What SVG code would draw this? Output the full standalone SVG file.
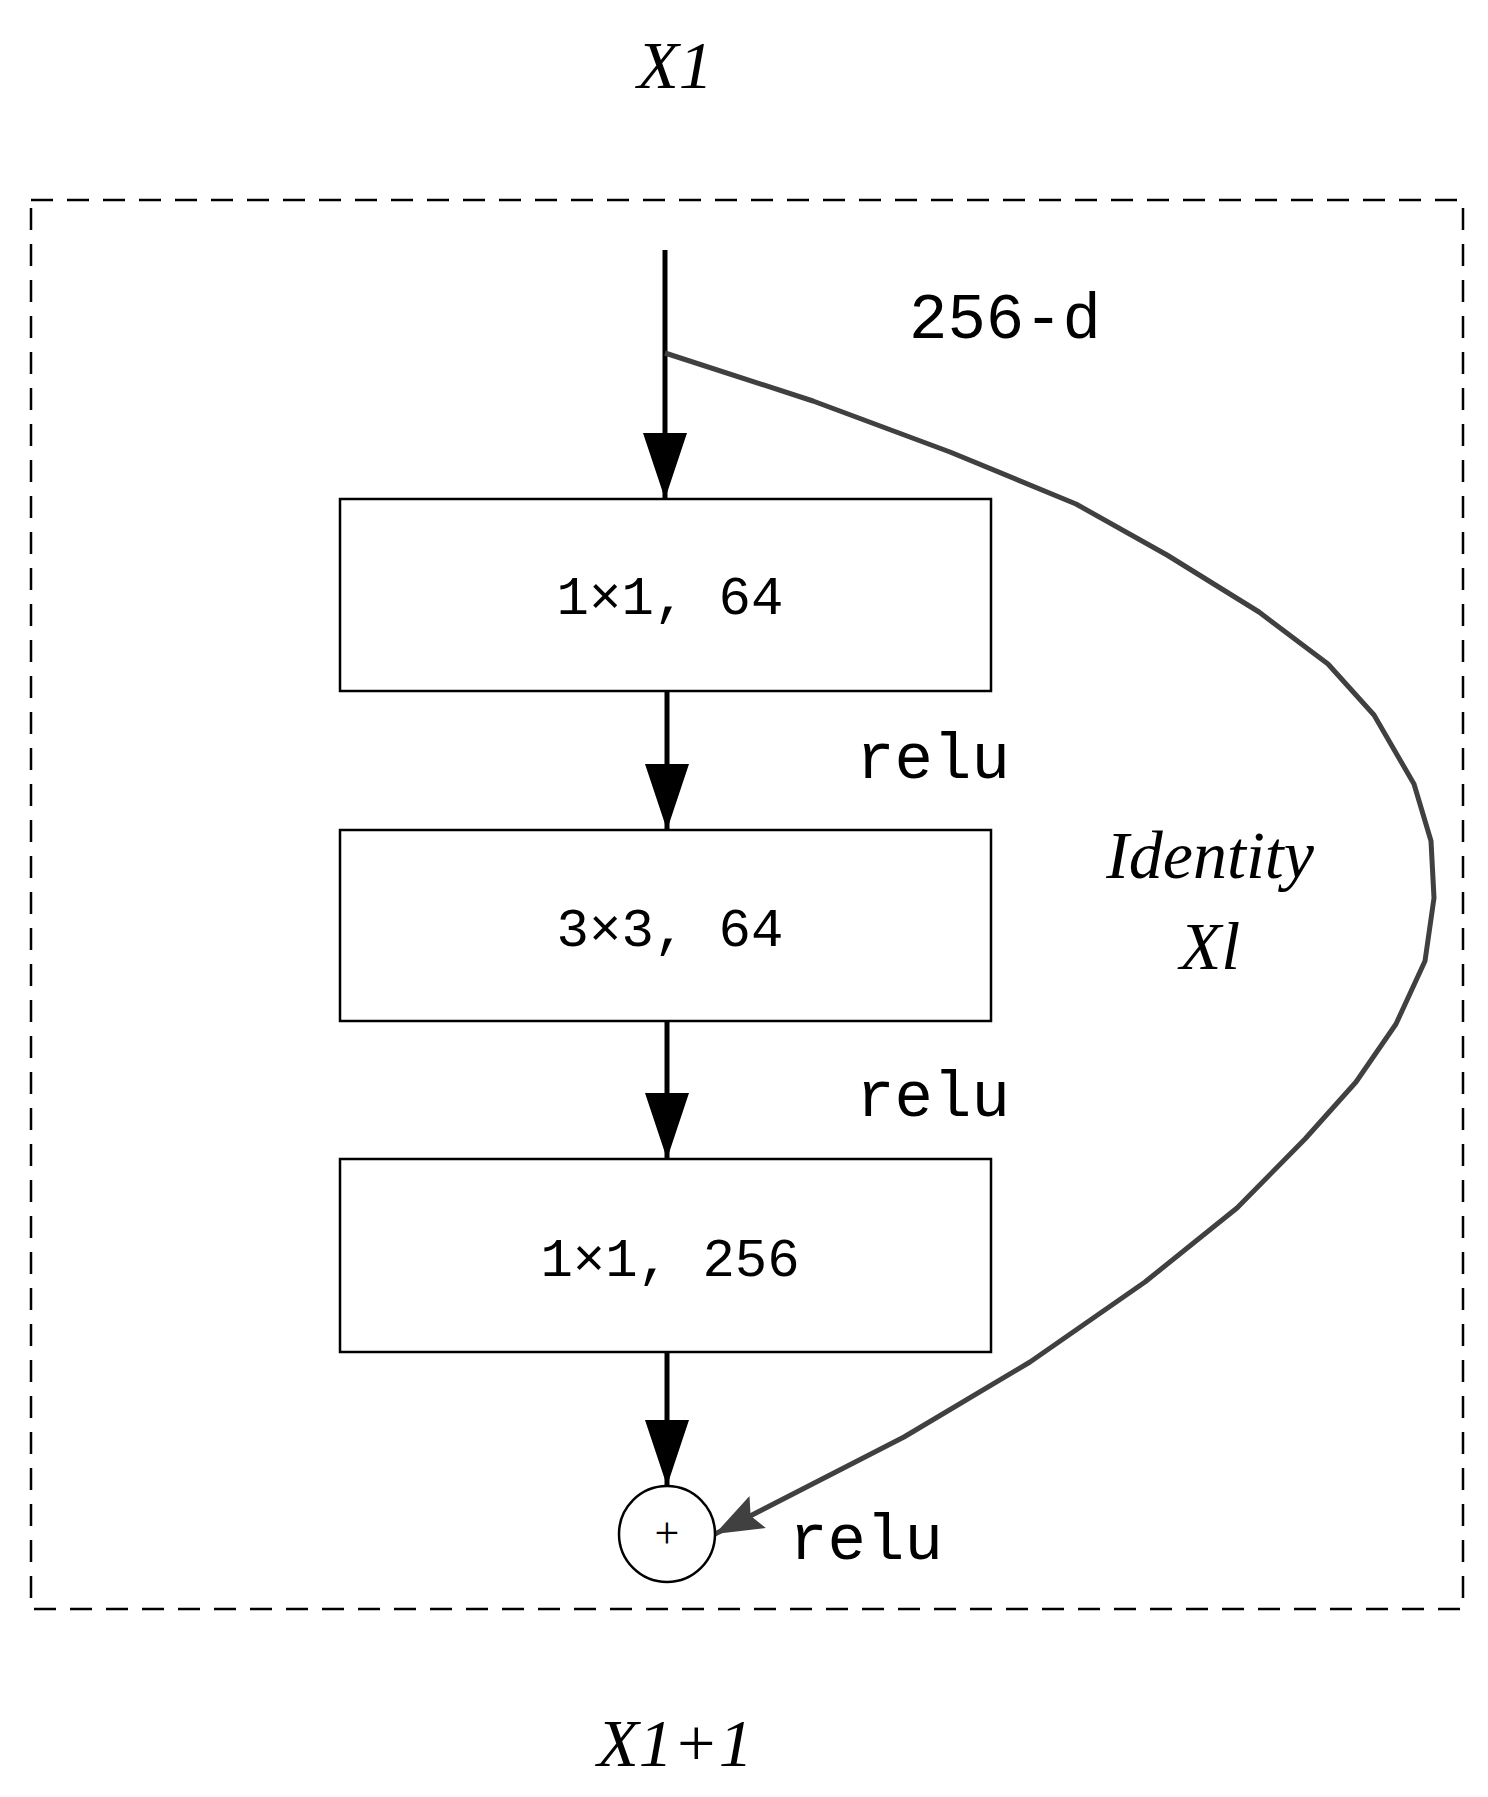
<svg xmlns="http://www.w3.org/2000/svg" width="1488" height="1797" viewBox="0 0 1488 1797">
<style>
.t{font-family:"Liberation Mono",monospace;font-size:54px;fill:#000;text-anchor:middle}
.i{font-family:"Liberation Serif",serif;font-style:italic;font-size:68px;fill:#000;text-anchor:middle}
.r{fill:#fff;stroke:#000;stroke-width:2.5}
.a{stroke:#000;stroke-width:5;fill:none}
</style>
<defs>
<marker id="ah" markerUnits="userSpaceOnUse" markerWidth="70" markerHeight="44" refX="66" refY="22" orient="auto"><path d="M0,0 L66,22 L0,44 Z" fill="#000"/></marker>
<marker id="ag" markerUnits="userSpaceOnUse" markerWidth="50" markerHeight="36" refX="48" refY="18" orient="auto"><path d="M0,0 L48,18 L0,36 L8,18 Z" fill="#404040"/></marker>
</defs>
<rect x="31" y="200" width="1432" height="1409" fill="none" stroke="#000" stroke-width="2.5" stroke-dasharray="22,14"/>
<text class="i" x="675" y="88">X1</text>
<text class="t" x="1005" y="338" style="font-size:64px">256-d</text>
<text class="i" x="1210" y="878">Identity</text>
<text class="i" x="1210" y="969">Xl</text>
<text class="t" x="933" y="778" style="font-size:64px">relu</text>
<text class="t" x="933" y="1116" style="font-size:64px">relu</text>
<text class="t" x="866" y="1559" style="font-size:64px">relu</text>
<text class="i" x="675" y="1766">X1+1</text>
<g id="connectors">
<path class="a" d="M665,250 V499" marker-end="url(#ah)"/>
<path class="a" d="M667,691 V830" marker-end="url(#ah)"/>
<path class="a" d="M667,1021 V1159" marker-end="url(#ah)"/>
<path class="a" d="M667,1352 V1486" marker-end="url(#ah)"/>
<polyline fill="none" stroke="#404040" stroke-width="5" stroke-linejoin="round" points="665,353 813,401 950,452 1076,504 1167,555 1259,612 1328,664 1374,715 1414,784 1431,841 1434,898 1425,961 1396,1024 1356,1082 1305,1139 1237,1208 1145,1282 1030,1362 904,1437 715,1534" marker-end="url(#ag)"/>
</g>
<g id="n1"><rect class="r" x="340" y="499" width="651" height="192"/><text class="t" x="670" y="614">1×1, 64</text></g>
<g id="n2"><rect class="r" x="340" y="830" width="651" height="191"/><text class="t" x="670" y="946">3×3, 64</text></g>
<g id="n3"><rect class="r" x="340" y="1159" width="651" height="193"/><text class="t" x="670" y="1276">1×1, 256</text></g>
<g id="sum"><circle cx="667" cy="1534" r="48" fill="#fff" stroke="#000" stroke-width="2.5"/><text class="t" x="667" y="1548" style="font-family:'Liberation Serif',serif;font-size:44px">+</text></g>
</svg>
